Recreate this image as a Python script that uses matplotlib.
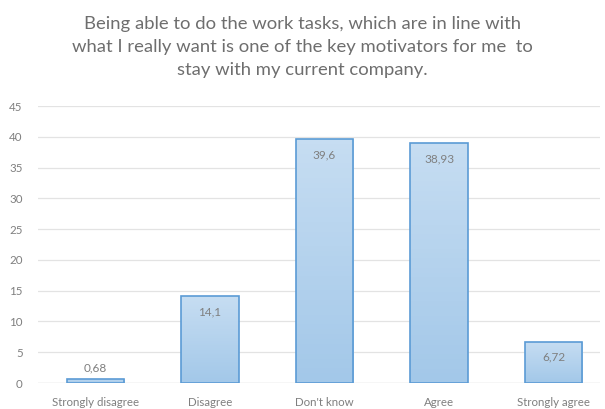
import numpy as np
import matplotlib
matplotlib.use("Agg")
import matplotlib.pyplot as plt
from matplotlib.colors import LinearSegmentedColormap

categories = ["Strongly disagree", "Disagree", "Don't know", "Agree", "Strongly agree"]
values = [0.68, 14.1, 39.6, 38.93, 6.72]
value_labels = ["0,68", "14,1", "39,6", "38,93", "6,72"]
yticks = [0, 5, 10, 15, 20, 25, 30, 35, 40, 45]

title = ("Being able to do the work tasks, which are in line with\n"
         "what I really want is one of the key motivators for me  to\n"
         "stay with my current company.")

plt.rcParams['font.family'] = ['Lato', 'DejaVu Sans']

fig = plt.figure(figsize=(6.05, 4.09), dpi=100)
ax = fig.add_axes([38/605, 1 - 383/409, (600 - 38)/605, (383 - 106)/409])

grad = LinearSegmentedColormap.from_list("barfill", ["#a3c8e9", "#c6ddf2"])
x = np.arange(len(categories))
bars = ax.bar(x, values, width=0.5, color="none", edgecolor="#5b9bd5",
              linewidth=1.2, zorder=3)
for b in bars:
    x0, y0 = b.get_x(), b.get_y()
    w, h = b.get_width(), b.get_height()
    img = ax.imshow(np.linspace(0, 1, 50).reshape(-1, 1), cmap=grad,
                    extent=[x0, x0 + w, y0, y0 + h], origin="lower",
                    aspect="auto", zorder=2)
    img.set_clip_path(b)

for xi, v, lab in zip(x, values, value_labels):
    if v > 5:
        ax.text(xi, v - 2.5, lab, ha="center", va="center", fontsize=8.5,
                color="#7f7f7f", zorder=4)
    else:
        ax.text(xi, v + 1.7, lab, ha="center", va="center", fontsize=8.5,
                color="#7f7f7f", zorder=4)

ax.set_xlim(-0.5, 4.405)
ax.set_ylim(0, 45)
ax.set_yticks(yticks)
ax.set_yticklabels([str(t) for t in yticks])
ax.set_xticks(x)
ax.set_xticklabels(categories)
ax.tick_params(axis="both", length=0, labelsize=8.3, labelcolor="#7f7f7f")
ax.tick_params(axis="y", pad=11)
ax.tick_params(axis="x", pad=10)
ax.grid(axis="y", color="#e3e3e3", linewidth=0.9, zorder=0)
ax.set_axisbelow(True)
for s in ax.spines.values():
    s.set_visible(False)
ax.axhline(0, color="#d9d9d9", linewidth=0.9, zorder=1)

fig.text(302/605, 1 - 47/409, title, ha="center", va="center", fontsize=13.3,
         color="#6e6e6e", linespacing=1.55)

fig.savefig("out.png", dpi=100)
